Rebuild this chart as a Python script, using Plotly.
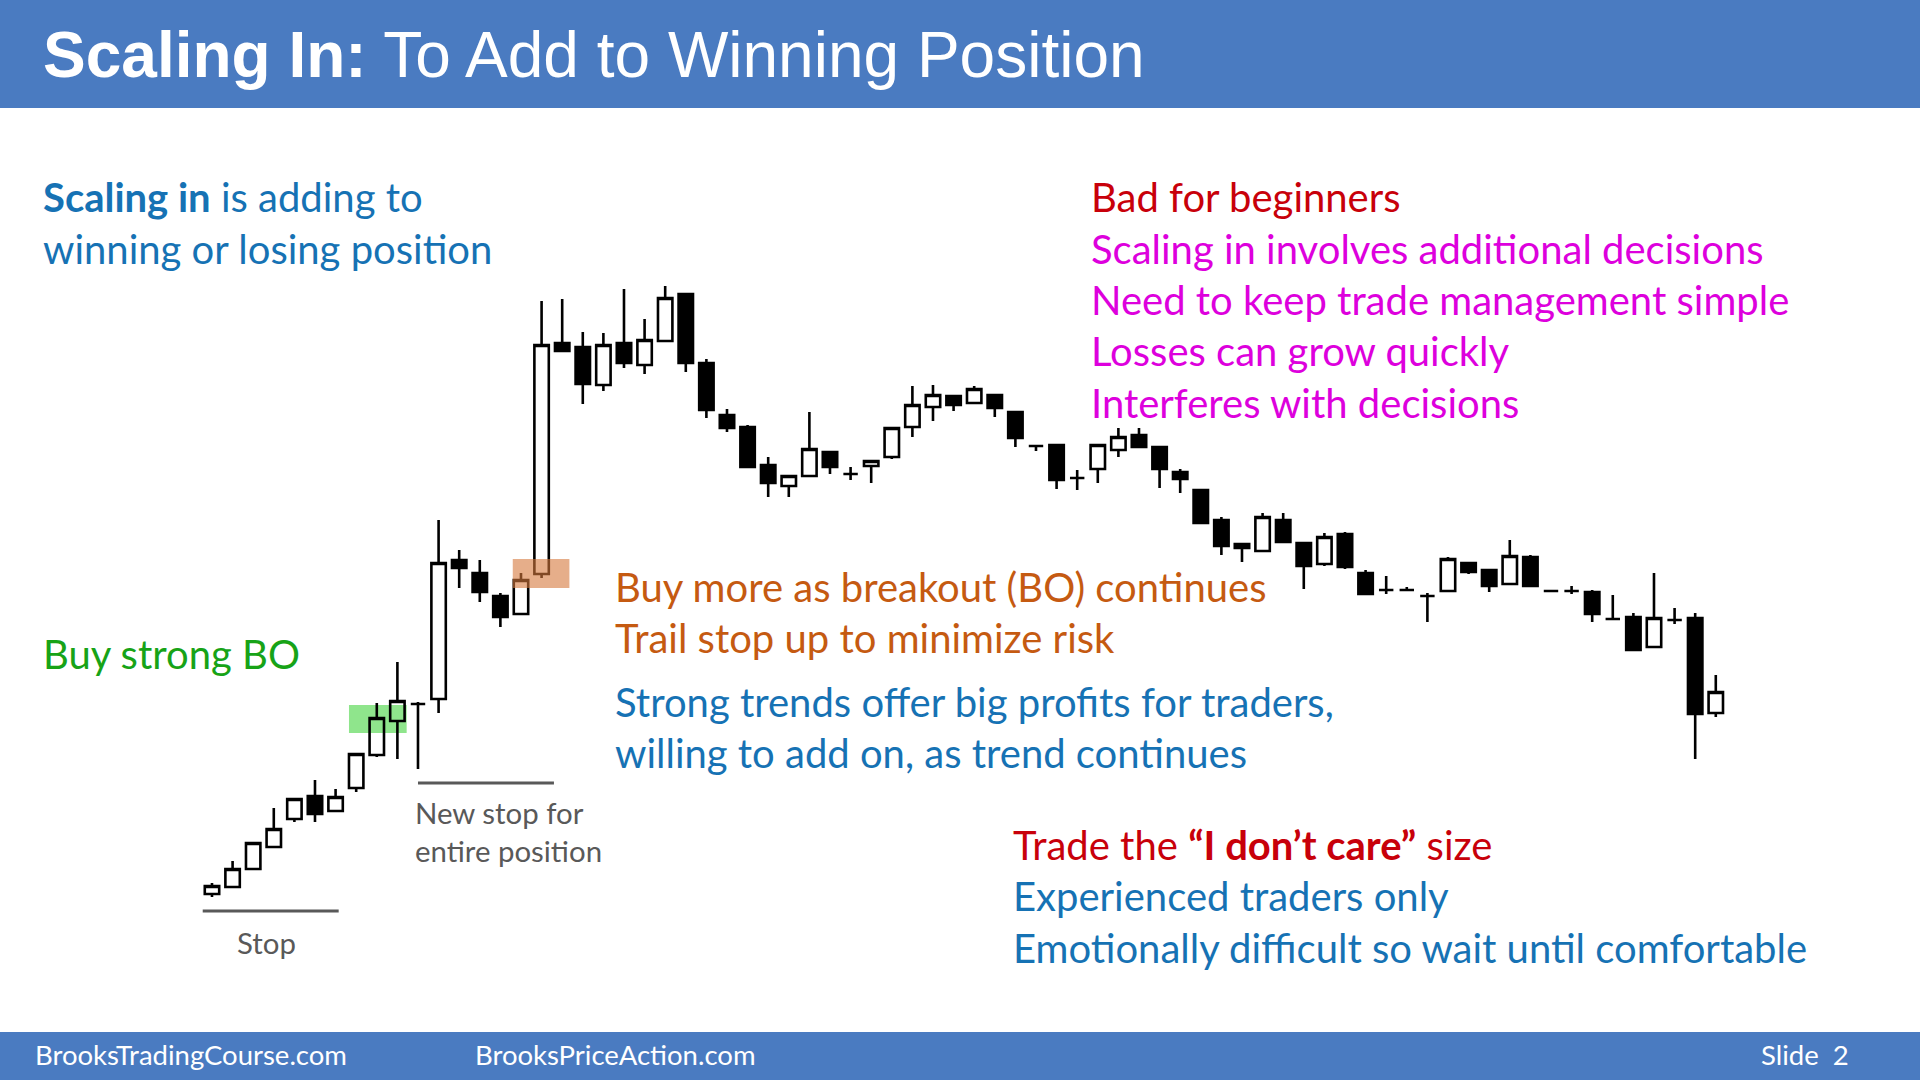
import plotly.graph_objects as go

# ---- candle data (price units) ----
bar_index = list(range(74))
open_ = [106, 113, 131, 153, 181, 204, 189, 212, 245, 279, 296, 301, 440, 427, 404, 386, 426, 657, 653, 615,
         657, 635, 659, 706, 637, 585, 573, 535, 514, 524, 548, 526, 534, 543, 573, 593, 604, 597, 605, 588,
         554, 555, 522, 531, 550, 565, 553, 528, 510, 480, 456, 449, 480, 457, 436, 466, 427, 410, 410, 404,
         409, 437, 430, 416, 443, 409, 409, 408, 381, 383, 353, 380, 382, 287]
high = [117, 139, 157, 192, 201, 220, 211, 246, 297, 338, 298, 480, 450, 440, 407, 427, 699, 701, 668, 667,
        711, 681, 714, 706, 641, 591, 575, 543, 524, 588, 548, 533, 539, 572, 614, 615, 605, 614, 605, 588,
        554, 555, 530, 555, 572, 572, 553, 531, 510, 483, 456, 487, 487, 458, 467, 468, 430, 424, 413, 407,
        443, 437, 430, 460, 445, 409, 414, 410, 405, 387, 427, 392, 387, 325]
low = [103, 113, 131, 153, 178, 178, 189, 208, 243, 241, 231, 287, 412, 398, 373, 386, 422, 649, 596, 609,
       632, 626, 659, 628, 582, 568, 533, 503, 503, 524, 526, 520, 517, 541, 563, 579, 589, 597, 583, 553,
       549, 511, 510, 517, 543, 553, 512, 507, 477, 445, 438, 449, 458, 411, 434, 431, 406, 406, 410, 378,
       409, 426, 408, 416, 414, 409, 406, 378, 380, 350, 353, 376, 241, 283]
close = [114, 131, 157, 171, 201, 186, 203, 246, 282, 299, 296, 437, 432, 408, 383, 420, 655, 649, 616, 655,
         637, 660, 702, 637, 590, 572, 533, 517, 524, 551, 533, 526, 539, 572, 595, 605, 595, 611, 592, 562,
         554, 520, 522, 555, 563, 553, 531, 521, 477, 454, 452, 483, 458, 434, 463, 433, 406, 410, 410, 404,
         441, 428, 414, 444, 414, 409, 409, 386, 381, 350, 382, 380, 286, 308]

# stop levels and highlighted entry zones
stop_level = 89
new_stop_level = 217
green_zone = (267, 295)
orange_zone = (412, 441)

W, H = 1920, 1080
BLUE_BAR = "#4A7BC1"
TXT_BLUE = "#1672B4"
TXT_GREEN = "#17A317"
TXT_RED = "#C8000A"
TXT_MAG = "#DD00DD"
TXT_ORANGE = "#C55A11"
TXT_GRAY = "#595959"
FONT = "Lato"

fig = go.Figure()
fig.add_trace(go.Candlestick(
    x=bar_index, open=open_, high=high, low=low, close=close,
    increasing=dict(line=dict(color="black", width=2.6), fillcolor="rgba(255,255,255,0)"),
    decreasing=dict(line=dict(color="black", width=2.6), fillcolor="black"),
    whiskerwidth=0, showlegend=False, hoverinfo="skip",
))

shapes = []
# header / footer bars
shapes.append(dict(type="rect", xref="paper", yref="paper", x0=0, x1=1, y0=1 - 108 / H, y1=1,
                   fillcolor=BLUE_BAR, line=dict(width=0), layer="below"))
shapes.append(dict(type="rect", xref="paper", yref="paper", x0=0, x1=1, y0=0, y1=48 / H,
                   fillcolor=BLUE_BAR, line=dict(width=0), layer="below"))
# highlight zones
shapes.append(dict(type="rect", xref="x", yref="y", x0=6.65, x1=9.45, y0=green_zone[0], y1=green_zone[1],
                   fillcolor="#8FE58C", line=dict(width=0), layer="below"))
shapes.append(dict(type="rect", xref="x", yref="y", x0=14.6, x1=17.35, y0=orange_zone[0], y1=orange_zone[1],
                   fillcolor="rgba(214,120,60,0.6)", line=dict(width=0), layer="above"))
# stop lines
shapes.append(dict(type="line", xref="x", yref="y", x0=-0.45, x1=6.15, y0=stop_level, y1=stop_level,
                   line=dict(color=TXT_GRAY, width=3)))
shapes.append(dict(type="line", xref="x", yref="y", x0=10.0, x1=16.6, y0=new_stop_level, y1=new_stop_level,
                   line=dict(color=TXT_GRAY, width=3)))

ann = []


def txt(s, x, y, color, size, anchor="left", family=FONT):
    ann.append(dict(text=s, x=x / W, y=1 - y / H, xref="paper", yref="paper", showarrow=False,
                    xanchor=anchor, yanchor="middle", font=dict(family=family, size=size, color=color)))


# title
txt("<b>Scaling In:</b> To Add to Winning Position", 41, 55, "white", 64, family="Liberation Sans, Arial")

S = 40
txt("<b>Scaling in</b> is adding to", 41, 197, TXT_BLUE, S)
txt("winning or losing position", 41, 249, TXT_BLUE, S)
txt("Buy strong BO", 41, 654, TXT_GREEN, S)

txt("Bad for beginners", 1089, 197, TXT_RED, S)
txt("Scaling in involves additional decisions", 1089, 249, TXT_MAG, S)
txt("Need to keep trade management simple", 1089, 300, TXT_MAG, S)
txt("Losses can grow quickly", 1089, 351, TXT_MAG, S)
txt("Interferes with decisions", 1089, 403, TXT_MAG, S)

txt("Buy more as breakout (BO) continues", 613, 587, TXT_ORANGE, S)
txt("Trail stop up to minimize risk", 613, 638, TXT_ORANGE, S)
txt("Strong trends offer big profits for traders,", 613, 702, TXT_BLUE, S)
txt("willing to add on, as trend continues", 613, 753, TXT_BLUE, S)

txt("New stop for", 413, 812, TXT_GRAY, 29.4)
txt("entire position", 413, 850, TXT_GRAY, 29.4)
txt("Stop", 266, 942, TXT_GRAY, 29.4, anchor="center")

txt("Trade the <b>“I don’t care”</b> size", 1011, 845, TXT_RED, S)
txt("Experienced traders only", 1011, 896, TXT_BLUE, S)
txt("Emotionally difficult so wait until comfortable", 1011, 948, TXT_BLUE, S)

# footer
txt("BrooksTradingCourse.com", 33, 1054, "white", 27.5)
txt("BrooksPriceAction.com", 473, 1054, "white", 27.5)
txt("Slide  2", 1851, 1054, "white", 27.5, anchor="right")

fig.update_layout(
    width=W, height=H, margin=dict(l=0, r=0, t=0, b=0),
    paper_bgcolor="white", plot_bgcolor="white",
    xaxis=dict(range=[-10.291, 82.913], visible=False, rangeslider=dict(visible=False), fixedrange=True),
    yaxis=dict(range=[-80, 1000], visible=False, fixedrange=True),
    boxgap=0.3, boxgroupgap=0,
    shapes=shapes, annotations=ann, showlegend=False,
)

fig.write_html("out.html", config={"displayModeBar": False},
               post_script="document.body.style.margin='0';document.body.style.padding='0';")
